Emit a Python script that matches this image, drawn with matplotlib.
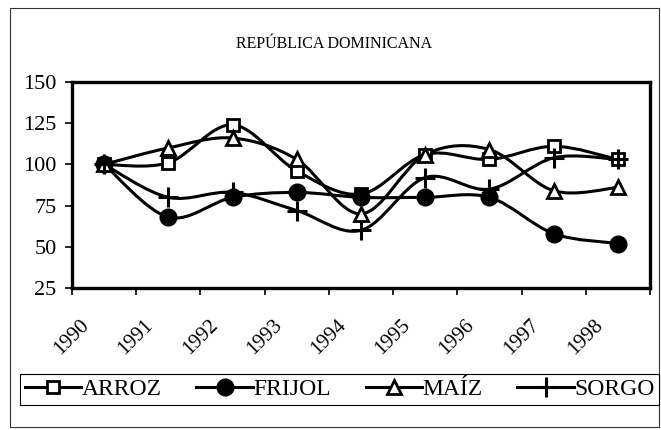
import matplotlib.pyplot as plt
from matplotlib.path import Path
from matplotlib.patches import PathPatch, Rectangle
from matplotlib.lines import Line2D
from matplotlib.transforms import ScaledTranslation

years = ['1990', '1991', '1992', '1993', '1994', '1995', '1996', '1997', '1998']
arroz = [100, 101, 124, 96, 82, 106, 103, 111, 103]
frijol = [100, 68, 80, 83, 80, 80, 80, 58, 52]
maiz = [100, 110, 116, 103, 70, 106, 109, 84, 86]
sorgo = [100, 80, 83, 72, 60, 92, 85, 104, 103]
title = 'REPÚBLICA DOMINICANA'

plt.rcParams['font.family'] = ['Liberation Serif', 'DejaVu Serif']

W, H = 661, 430
fig = plt.figure(figsize=(W / 100, H / 100), dpi=100)
ax = fig.add_axes([72 / W, 1 - 288 / H, (650 - 72) / W, (288 - 82) / H])


def smooth_path(xs, ys):
    # Excel-style smoothed line: cubic Bezier through every point
    pts = list(zip(xs, ys))
    n = len(pts)
    verts = [pts[0]]
    codes = [Path.MOVETO]
    for i in range(n - 1):
        p0 = pts[max(i - 1, 0)]
        p1 = pts[i]
        p2 = pts[i + 1]
        p3 = pts[min(i + 2, n - 1)]
        c1 = (p1[0] + (p2[0] - p0[0]) / 6, p1[1] + (p2[1] - p0[1]) / 6)
        c2 = (p2[0] - (p3[0] - p1[0]) / 6, p2[1] - (p3[1] - p1[1]) / 6)
        verts += [c1, c2, p2]
        codes += [Path.CURVE4] * 3
    return Path(verts, codes)


x = list(range(len(years)))
series = [
    ('ARROZ', arroz, dict(marker='s', markersize=9, markerfacecolor='white', markeredgewidth=2)),
    ('FRIJOL', frijol, dict(marker='o', markersize=11.5, markerfacecolor='black', markeredgewidth=1.5)),
    ('MAÍZ', maiz, dict(marker='^', markersize=10, markerfacecolor='white', markeredgewidth=2)),
    ('SORGO', sorgo, dict(marker='+', markersize=14, markeredgewidth=2.2)),
]

handles = []
for name, vals, mk in series:
    ax.add_patch(PathPatch(smooth_path(x, vals), fill=False, edgecolor='black', lw=2.2, zorder=2))
for name, vals, mk in series:
    ax.plot(x, vals, linestyle='none', color='black', zorder=3, **mk)
    handles.append(Line2D([], [], color='black', lw=2.2, label=name, **mk))

ax.set_xlim(-0.5, len(years) - 0.5)
ax.set_ylim(25, 150)
ax.set_yticks([25, 50, 75, 100, 125, 150])
ax.tick_params(axis='y', labelsize=16, length=5, width=1.2, pad=6, direction='out')

ax.set_xticks(x)
ax.set_xticklabels(years, rotation=45, ha='right', fontsize=15)
ax.set_xticks([i - 0.5 for i in range(len(years) + 1)], minor=True)
ax.tick_params(axis='x', which='major', length=0, pad=20)
ax.tick_params(axis='x', which='minor', length=5, width=1.2, direction='out')
offset = ScaledTranslation(-11 / 100, 0, fig.dpi_scale_trans)
for lbl in ax.get_xticklabels():
    lbl.set_transform(lbl.get_transform() + offset)

for sp in ax.spines.values():
    sp.set_linewidth(2.4)

fig.text(334 / W, 1 - 44 / H, title, ha='center', va='center', fontsize=11.5)

leg = fig.legend(handles=handles, loc='center', ncol=4, mode='expand',
                 bbox_to_anchor=(20 / W, 1 - 409 / H, (659 - 20) / W, (409 - 370) / H),
                 fontsize=17, handlelength=2.4, handletextpad=0.0,
                 borderaxespad=0, fancybox=False, framealpha=1, borderpad=0.2)
leg.get_frame().set_edgecolor('black')
leg.get_frame().set_linewidth(0.8)

fig.add_artist(Rectangle((10 / W, 1 - 427 / H), (659 - 10) / W, (427 - 8) / H,
                         transform=fig.transFigure, fill=False, edgecolor='#333333', lw=0.8))

fig.savefig('out.png', dpi=100)
